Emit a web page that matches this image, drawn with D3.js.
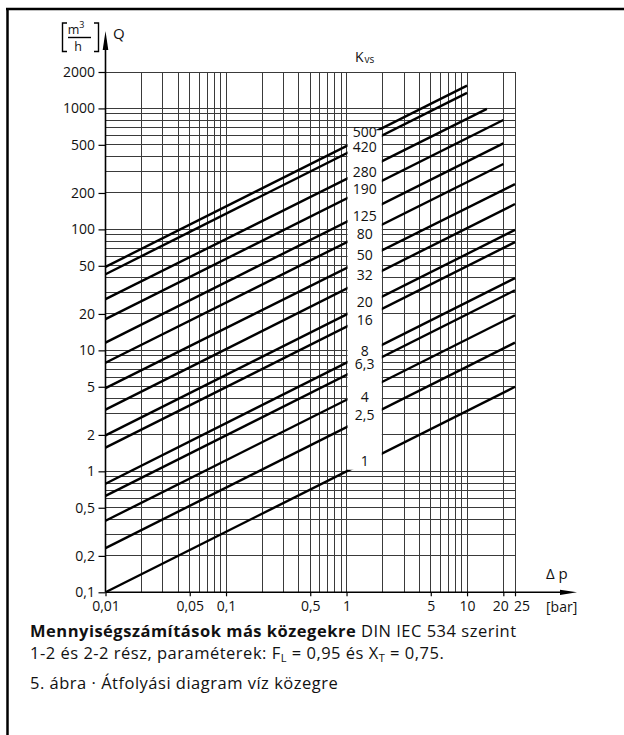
<!DOCTYPE html>
<html>
<head>
<meta charset="utf-8">
<script src="https://cdn.jsdelivr.net/npm/d3@7"></script>
<style>
  body { margin: 0; background: #fff; }
  svg { display: block; }
  text { font-family: "Open Sans", sans-serif; fill: #111; }
</style>
</head>
<body>
<div id="chart-container"></div>
<script>
// Kvs lines: Q at dp=0.01 and where each line stops
var kvsLabels = ["500", "420", "280", "190", "125", "80", "50", "32", "20", "16", "8", "6,3", "4", "2,5", "1"];
var qStart = [49, 42.6, 26.5, 18.1, 11.6, 7.9, 4.87, 3.24, 1.98, 1.57, 0.79, 0.627, 0.39, 0.232, 0.1];
var dpEnd = [10, 10, 14.6, 20, 20, 20, 25, 25, 25, 25, 25, 25, 25, 25, 25];
var qEnd = [1542, 1345, 990, 802, 514, 347, 237, 162, 99, 78.5, 39.5, 31.4, 19.5, 11.6, 5.0];
// Q height of each label inside the white band
var labelQ = [640, 480, 300, 215, 130, 92, 61, 42, 25, 18, 9.9, 7.7, 4.1, 2.9, 1.22];

var xTicks = [0.01, 0.05, 0.1, 0.5, 1, 5, 10, 20, 25];
var xTickLabels = ["0,01", "0,05", "0,1", "0,5", "1", "5", "10", "20", "25"];
var yTicks = [0.1, 0.2, 0.5, 1, 2, 5, 10, 20, 50, 100, 200, 500, 1000, 2000];
var yTickLabels = ["0,1", "0,2", "0,5", "1", "2", "5", "10", "20", "50", "100", "200", "500", "1000", "2000"];

var svgWidth = 624;
var svgHeight = 735;
var margin = { top: 72, left: 105.5 };
var width = 409.5;
var height = 520.3;

var svg = d3.select("#chart-container")
    .append("svg")
    .attr("width", svgWidth)
    .attr("height", svgHeight);

// frame
svg.append("line").attr("x1", 6).attr("x2", 624).attr("y1", 9).attr("y2", 9)
    .attr("stroke", "#000").attr("stroke-width", 2.5);
svg.append("line").attr("x1", 7.5).attr("x2", 7.5).attr("y1", 8).attr("y2", 735)
    .attr("stroke", "#000").attr("stroke-width", 2.5);

var x = d3.scaleLog().domain([0.01, 25]).range([margin.left, margin.left + width]);
var y = d3.scaleLog().domain([0.1, 2000]).range([margin.top + height, margin.top]);

// grid
var xGrid = x.ticks().filter(function(d) { return d <= 25; }).concat([25]);
var yGrid = y.ticks();

var grid = svg.append("g").attr("stroke", "#3a3a3a").attr("stroke-width", 1)
    .attr("shape-rendering", "crispEdges");
grid.selectAll(".vg").data(xGrid).enter().append("line")
    .attr("x1", function(d) { return x(d); })
    .attr("x2", function(d) { return x(d); })
    .attr("y1", y(0.1))
    .attr("y2", y(2000));
grid.selectAll(".hg").data(yGrid).enter().append("line")
    .attr("x1", x(0.01))
    .attr("x2", x(25))
    .attr("y1", function(d) { return y(d); })
    .attr("y2", function(d) { return y(d); });

// Kvs lines
var lines = kvsLabels.map(function(k, i) {
    return { label: k, pts: [[0.01, qStart[i]], [dpEnd[i], qEnd[i]]], lq: labelQ[i] };
});
var lineGen = d3.line()
    .x(function(d) { return x(d[0]); })
    .y(function(d) { return y(d[1]); });

svg.selectAll(".kvs").data(lines).enter().append("path")
    .attr("class", "kvs")
    .attr("d", function(d) { return lineGen(d.pts); })
    .attr("fill", "none")
    .attr("stroke", "#000")
    .attr("stroke-width", 2.4);

// white band for the labels between 1 and 2 bar
svg.append("rect")
    .attr("x", x(1) + 1)
    .attr("width", x(2) - x(1) - 2)
    .attr("y", y(660))
    .attr("height", y(1.03) - y(660))
    .attr("fill", "#fff");

svg.selectAll(".kl").data(lines).enter().append("text")
    .attr("x", (x(1) + x(2)) / 2)
    .attr("y", function(d) { return y(d.lq); })
    .attr("dy", "0.36em")
    .attr("text-anchor", "middle")
    .attr("font-size", 14)
    .text(function(d) { return d.label; });

// axes
var yAxis = svg.append("g")
    .attr("transform", "translate(" + margin.left + ",0)")
    .call(d3.axisLeft(y).tickValues(yTicks).tickSize(7).tickPadding(3.5)
        .tickFormat(function(d, i) { return yTickLabels[i]; }));
var xAxis = svg.append("g")
    .attr("transform", "translate(0," + (margin.top + height) + ")")
    .call(d3.axisBottom(x).tickValues(xTicks).tickSize(4).tickPadding(5)
        .tickFormat(function(d, i) { return xTickLabels[i]; }));

[yAxis, xAxis].forEach(function(a) {
    a.select(".domain").remove();
    a.selectAll(".tick line").attr("stroke", "#000").attr("stroke-width", 1.2);
    a.selectAll(".tick text").attr("font-size", 14).attr("font-family", "Open Sans").attr("fill", "#111");
});
// 20 and 25 sit close together: push them apart like the original
xAxis.selectAll(".tick text")
    .filter(function(d) { return d === 20; })
    .attr("text-anchor", "end").attr("x", 5);
xAxis.selectAll(".tick text")
    .filter(function(d) { return d === 25; })
    .attr("text-anchor", "start").attr("x", -1.5);

// axis lines with arrows
var y0 = margin.top + height;
svg.append("line").attr("x1", margin.left).attr("x2", margin.left)
    .attr("y1", y0).attr("y2", 40).attr("stroke", "#000").attr("stroke-width", 1.6);
svg.append("path")
    .attr("d", "M" + margin.left + ",31 L" + (margin.left - 2.8) + ",50 L" + (margin.left + 2.8) + ",50 Z")
    .attr("fill", "#000");
svg.append("line").attr("x1", margin.left).attr("x2", 566)
    .attr("y1", y0).attr("y2", y0).attr("stroke", "#000").attr("stroke-width", 1.6);
svg.append("path")
    .attr("d", "M577," + y0 + " L560," + (y0 - 2.6) + " L560," + (y0 + 2.6) + " Z")
    .attr("fill", "#000");

// y label [m3/h] Q
var ul = svg.append("g").attr("stroke", "#000").attr("stroke-width", 1.4).attr("fill", "none");
ul.append("path").attr("d", "M67,23 L62.5,23 L62.5,51.5 L67,51.5");
ul.append("path").attr("d", "M94,23 L98.5,23 L98.5,51.5 L94,51.5");
ul.append("line").attr("x1", 68).attr("x2", 91).attr("y1", 37.5).attr("y2", 37.5);
var mt = svg.append("text").attr("x", 76).attr("y", 34).attr("text-anchor", "middle").attr("font-size", 12.5);
mt.append("tspan").text("m");
mt.append("tspan").attr("font-size", 9).attr("dy", -6).text("3");
svg.append("text").attr("x", 78).attr("y", 50.5).attr("text-anchor", "middle").attr("font-size", 12.5).text("h");
svg.append("text").attr("x", 113).attr("y", 38.5).attr("font-size", 15).text("Q");

// Kvs title
var kt = svg.append("text").attr("x", 355).attr("y", 62).attr("font-size", 14);
kt.append("tspan").text("K");
kt.append("tspan").attr("font-size", 10).attr("dx", 1).attr("dy", 1).text("vs");

// x label
svg.append("text").attr("x", 546).attr("y", 578.5).attr("font-size", 15).text("Δ p");
svg.append("text").attr("x", 546).attr("y", 612).attr("font-size", 14).text("[bar]");

// caption
var c1 = svg.append("text").attr("x", 30).attr("y", 637).attr("font-size", 16.5).attr("letter-spacing", 0.5);
c1.append("tspan").attr("font-weight", "bold").text("Mennyiségszámítások más közegekre");
c1.append("tspan").text(" DIN IEC 534 szerint");
var c2 = svg.append("text").attr("x", 30).attr("y", 659).attr("font-size", 16.5).attr("letter-spacing", 0.5);
c2.append("tspan").text("1-2 és 2-2 rész, paraméterek: F");
c2.append("tspan").attr("font-size", 11).attr("dy", 3).text("L");
c2.append("tspan").attr("dy", -3).text(" = 0,95 és X");
c2.append("tspan").attr("font-size", 11).attr("dy", 3).text("T");
c2.append("tspan").attr("dy", -3).text(" = 0,75.");
svg.append("text").attr("x", 30).attr("y", 689).attr("font-size", 16.5).attr("letter-spacing", 0.5)
    .text("5. ábra · Átfolyási diagram víz közegre");
</script>
</body>
</html>
